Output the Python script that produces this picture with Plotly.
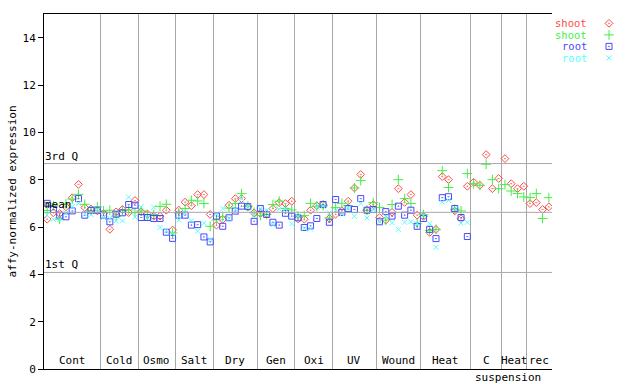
import plotly.graph_objects as go

# ---------------- data ----------------
groups = ["Cont", "Cold", "Osmo", "Salt", "Dry", "Gen", "Oxi", "UV", "Wound", "Heat", "C", "Heat", "rec"]
group_sizes = [9, 6, 6, 6, 7, 6, 6, 7, 7, 8, 5, 4, 4]
extra_label = "suspension"

shoot_red = [6.33, 6.6, 6.57, 6.85, 7.24, 7.8, 6.82, 6.76, 6.68,
             6.57, 5.9, 6.64, 6.74, 6.61, 7.12,
             6.64, 6.55, 6.46, 6.46, 6.71, 5.87,
             6.71, 7.05, 6.9, 7.37, 7.37, 6.53,
             6.08, 6.32, 6.92, 7.2, 7.2, 6.85, 6.6,
             6.57, 6.55, 6.78, 7.03, 6.99, 7.09,
             6.34, 6.33, 6.71, 6.9, 6.95, 6.36,
             6.54, 6.69, 7.09, 7.65, 8.22, 6.71, 6.95,
             6.4, 6.29, 6.62, 7.62, 7.04, 7.37, 6.5,
             6.45, 5.77, 5.9, 8.13, 8.0, 6.68, 6.35, 7.72,
             7.89, 7.76, 9.06, 7.62, 8.05,
             8.89, 7.83, 7.62, 7.72,
             6.99, 7.03, 6.74, 6.85]
shoot_green = [6.7, 6.9, 6.33, 6.97, 7.18, 7.38, 6.96, 6.7, 6.85,
               6.68, 6.71, 6.46, 6.7, 6.72, 6.6,
               6.68, 6.51, 6.52, 6.87, 6.96, 5.75,
               6.6, 6.78, 7.13, 7.1, 6.99, 6.03,
               6.3, 6.44, 6.8, 6.99, 7.41, 6.88, 6.62,
               6.48, 6.53, 6.95, 7.09, 6.78, 6.72,
               6.46, 6.48, 7.0, 6.87, 6.9, 6.38,
               6.82, 7.0, 6.9, 7.65, 7.96, 6.71, 7.03,
               6.82, 6.29, 6.95, 8.0, 7.2, 6.99, 6.14,
               6.52, 5.85, 5.9, 8.38, 7.67, 6.75, 6.68, 8.26,
               7.83, 7.76, 8.65, 8.0, 7.62,
               7.79, 7.52, 7.41, 7.27,
               7.24, 7.41, 6.36, 7.24]
root_blue = [7.0, 6.74, 6.5, 6.43, 6.68, 7.2, 6.5, 6.7, 6.71,
             6.5, 6.22, 6.54, 6.6, 6.95, 6.92,
             6.4, 6.4, 6.36, 6.36, 5.78, 5.52,
             6.5, 6.5, 6.08, 6.1, 5.58, 5.37,
             6.46, 6.03, 6.39, 6.67, 6.88, 6.86, 6.24,
             6.78, 6.53, 6.2, 6.08, 6.58, 6.46,
             6.39, 5.98, 6.05, 6.36, 6.95, 6.2,
             7.16, 6.62, 6.78, 6.74, 7.2, 6.71, 6.74,
             6.22, 6.65, 6.46, 6.88, 6.5, 6.71, 6.03,
             6.36, 5.9, 5.51, 7.24, 7.28, 6.78, 6.4, 5.6] + [None] * 13
root_cyan = [6.5, 6.32, 6.33, 6.6, 6.86, 7.0, 6.54, 6.52, 6.72,
             6.4, 6.36, 6.26, 6.26, 7.26, 6.42,
             6.85, 6.4, 6.83, 5.98, 5.85, 5.73,
             6.29, 6.6, 6.26, 5.82, 6.16, 5.47,
             6.55, 6.78, 6.36, 6.75, 7.2, 6.85, 6.5,
             6.78, 6.71, 6.1, 6.76, 6.76, 6.14,
             6.45, 5.94, 5.92, 6.85, 6.88, 6.6,
             6.7, 6.55, 6.8, 6.45, 6.99, 6.38, 6.72,
             6.22, 6.43, 6.18, 5.9, 6.2, 6.22, 6.14,
             6.5, 6.14, 5.14, 7.05, 7.12, 6.78, 6.16, 6.2] + [None] * 13

q3_value = 8.68
mean_value = 6.62
q1_value = 4.08
y_ticks = [0, 2, 4, 6, 8, 10, 12, 14]

series_names = ["shoot", "shoot", "root", "root"]
series_colors = ["#ff4a4a", "#44ee44", "#4848ff", "#55ffff"]
series_symbols = ["diamond-open-dot", "cross-thin-open", "square-open-dot", "x-thin-open"]
series_sizes = [6, 7, 6, 5]

# ---------------- build ----------------
FONT = "DejaVu Sans Mono"
n = sum(group_sizes)
xs = list(range(1, n + 1))

boundaries = []
centers = []
acc = 0
for s in group_sizes:
    centers.append(acc + 0.5 + s / 2)
    acc += s
    boundaries.append(acc + 0.5)
boundaries = boundaries[:-1]

fig = go.Figure()
all_series = [shoot_red, shoot_green, root_blue, root_cyan]
for vals, col, sym, sz in zip(all_series, series_colors, series_symbols, series_sizes):
    fig.add_trace(go.Scatter(
        x=xs, y=vals, mode="markers", showlegend=False,
        marker=dict(symbol=sym, color=col, size=sz, line=dict(color=col, width=1)),
        xaxis="x", yaxis="y"))

# legend keys (custom: text then symbol)
for i, (name, col, sym, sz) in enumerate(zip(series_names, series_colors, series_symbols, series_sizes)):
    fig.add_trace(go.Scatter(
        x=[0.5], y=[3 - i], mode="markers", showlegend=False, hoverinfo="skip",
        marker=dict(symbol=sym, color=col, size=sz, line=dict(color=col, width=1)),
        xaxis="x2", yaxis="y2"))

W, H = 640, 384
L, R_PX, T, B = 44, 552, 14, 15
plot_w = W - L
xdom = (R_PX - L) / plot_w

fig.update_layout(
    width=W, height=H,
    margin=dict(l=L, r=0, t=T, b=B),
    paper_bgcolor="white", plot_bgcolor="white",
    font=dict(family=FONT, size=11, color="black"),
    xaxis=dict(domain=[0, xdom], range=[0.5, n + 0.5], tickvals=boundaries,
               showticklabels=False, ticks="", showgrid=True, gridcolor="#a8a8a8", gridwidth=1,
               zeroline=False, showline=True, linecolor="black", linewidth=1, mirror=True),
    yaxis=dict(range=[0, 15], tickvals=y_ticks, ticks="outside", ticklen=5, tickcolor="black",
               showgrid=False, zeroline=False, showline=True, linecolor="black", linewidth=1,
               automargin=True,
               title=dict(text="affy-normalized expression", font=dict(family=FONT, size=11), standoff=3)),
    yaxis3=dict(range=[0, 15], tickvals=y_ticks, overlaying="y", side="right", anchor="x",
                ticks="inside", ticklen=5, tickcolor="black", showticklabels=False,
                showgrid=False, zeroline=False, showline=True, linecolor="black", linewidth=1),
    xaxis2=dict(domain=[0.93, 0.966], range=[0, 1], visible=False, anchor="y2"),
    yaxis2=dict(domain=[0.86, 0.99], range=[-0.5, 3.5], visible=False, anchor="x2"),
)

# reference lines
for v in [q3_value, mean_value, q1_value]:
    fig.add_shape(type="line", xref="x", yref="y", x0=0.5, x1=n + 0.5, y0=v, y1=v,
                  line=dict(color="#a8a8a8", width=1))
for txt, v in [("3rd Q", q3_value), ("mean", mean_value), ("1st Q", q1_value)]:
    fig.add_annotation(x=0.5, y=v, xref="x", yref="y", text=txt, showarrow=False,
                       xanchor="left", yanchor="bottom", yshift=-1, xshift=-1,
                       font=dict(family=FONT, size=11, color="black"))

# group labels
for g, c in zip(groups, centers):
    fig.add_annotation(x=c, y=0, xref="x", yref="y", text=g, showarrow=False,
                       yanchor="bottom", yshift=0, font=dict(family=FONT, size=11, color="black"))
ci = groups.index("C")
fig.add_annotation(x=centers[ci] + 3.5, y=0, xref="x", yref="y", text=extra_label, showarrow=False,
                   yanchor="top", yshift=0, font=dict(family=FONT, size=11, color="black"))

# legend text
for i, (name, col) in enumerate(zip(series_names, series_colors)):
    fig.add_annotation(x=0.0, y=3 - i, xref="x2", yref="y2", text=name, showarrow=False,
                       xanchor="right", xshift=-10, borderpad=0,
                       font=dict(family=FONT, size=10.5, color=col))

fig.write_html("out.html", post_script="document.body.style.margin='0';",
               config={"displayModeBar": False})
